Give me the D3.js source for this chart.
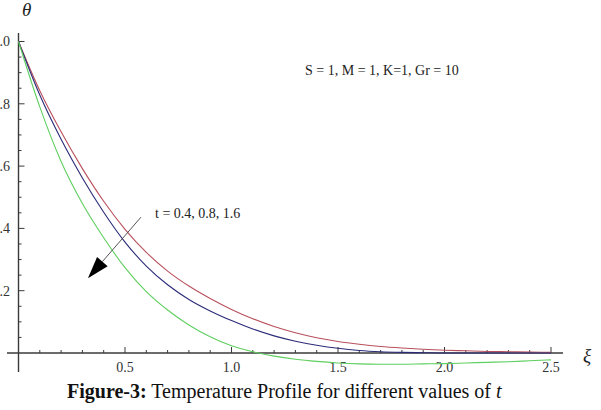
<!DOCTYPE html>
<html>
<head>
<meta charset="utf-8">
<script src="https://cdn.jsdelivr.net/npm/d3@7"></script>
<style>
  html, body { margin: 0; padding: 0; background: #fff; }
  svg { display: block; }
  text { font-family: "Liberation Serif", "Times New Roman", serif; }
</style>
</head>
<body>
<script>
'use strict';
// temperature profile, three values of t
const xi       = [0, 0.1, 0.2, 0.3, 0.4, 0.5, 0.6, 0.7, 0.8, 0.9, 1.0, 1.1, 1.2, 1.3, 1.4, 1.5, 1.6, 1.7, 1.8, 1.9, 2.0, 2.1, 2.2, 2.3, 2.4, 2.5];
const thetaT04 = [1.0, 0.842, 0.71, 0.592, 0.487, 0.397, 0.323, 0.263, 0.215, 0.175, 0.14, 0.11, 0.085, 0.065, 0.049, 0.037, 0.028, 0.021, 0.016, 0.012, 0.009, 0.007, 0.005, 0.004, 0.003, 0.002];
const thetaT08 = [1.0, 0.828, 0.686, 0.562, 0.452, 0.356, 0.279, 0.219, 0.172, 0.135, 0.104, 0.077, 0.055, 0.038, 0.025, 0.015, 0.008, 0.004, 0.002, 0.001, 0.0, 0.0, 0.0, 0.0, 0.0, 0.0];
const thetaT16 = [1.0, 0.79, 0.615, 0.48, 0.37, 0.274, 0.197, 0.138, 0.09, 0.052, 0.023, 0.004, -0.01, -0.02, -0.027, -0.032, -0.035, -0.036, -0.036, -0.035, -0.034, -0.032, -0.03, -0.028, -0.025, -0.022];
const xTicks = [0.5, 1.0, 1.5, 2.0, 2.5];
const yTicks = [0.2, 0.4, 0.6, 0.8, 1.0];

(function() {
  const W = 601, H = 410;
  const svg = d3.select('body').append('svg')
    .attr('width', W)
    .attr('height', H);

  // scales: xi=0 at 18.5px, theta=0 at 353px
  const x = d3.scaleLinear().domain([0, 2.5]).range([18.5, 551]);
  const y = d3.scaleLinear().domain([0, 1]).range([353, 41.5]);

  const axisColor = '#3a3a3a';

  // x axis line (runs a bit past both ends)
  svg.append('line')
    .attr('x1', 7).attr('x2', 563)
    .attr('y1', y(0)).attr('y2', y(0))
    .attr('stroke', axisColor).attr('stroke-width', 1.4);

  // y axis line (runs below the x axis)
  svg.append('line')
    .attr('x1', x(0)).attr('x2', x(0))
    .attr('y1', 33).attr('y2', 372)
    .attr('stroke', axisColor).attr('stroke-width', 1.4);

  // x ticks, pointing up (inward)
  const xMinor = d3.range(1, 26).map(d => d / 10);
  svg.append('g').selectAll('line')
    .data(xMinor)
    .enter().append('line')
      .attr('x1', d => x(d)).attr('x2', d => x(d))
      .attr('y1', y(0))
      .attr('y2', d => xTicks.some(t => Math.abs(t - d) < 1e-9) ? y(0) - 6 : y(0) - 3)
      .attr('stroke', axisColor).attr('stroke-width', 1);

  svg.append('g').selectAll('text')
    .data(xTicks)
    .enter().append('text')
      .attr('x', d => x(d))
      .attr('y', 372)
      .attr('text-anchor', 'middle')
      .style('font-size', '14px')
      .attr('fill', '#333')
      .text(d => d.toFixed(1));

  // y ticks, pointing right (inward)
  const yMinor = d3.range(1, 21).map(d => d / 20);
  svg.append('g').selectAll('line')
    .data(yMinor)
    .enter().append('line')
      .attr('y1', d => y(d)).attr('y2', d => y(d))
      .attr('x1', x(0))
      .attr('x2', d => yTicks.some(t => Math.abs(t - d) < 1e-9) ? x(0) + 6 : x(0) + 3)
      .attr('stroke', axisColor).attr('stroke-width', 1);

  svg.append('g').selectAll('text')
    .data(yTicks)
    .enter().append('text')
      .attr('x', 10)
      .attr('y', d => y(d))
      .attr('dy', '0.35em')
      .attr('text-anchor', 'end')
      .style('font-size', '14px')
      .attr('fill', '#333')
      .text(d => d.toFixed(1));

  // curves
  const series = [
    { values: thetaT04, color: '#b8505c' },
    { values: thetaT08, color: '#2b2b7a' },
    { values: thetaT16, color: '#5fcf5f' }
  ];
  const line = d3.line()
    .x(d => x(d[0]))
    .y(d => y(d[1]))
    .curve(d3.curveMonotoneX);

  series.forEach(s => {
    svg.append('path')
      .datum(xi.map((v, i) => [v, s.values[i]]))
      .attr('d', line)
      .attr('fill', 'none')
      .attr('stroke', s.color)
      .attr('stroke-width', 1.1);
  });

  // axis labels
  svg.append('text')
    .attr('x', 22).attr('y', 16)
    .style('font-size', '19px')
    .style('font-style', 'italic')
    .attr('fill', '#222')
    .text('\u03B8');

  svg.append('text')
    .attr('x', 583).attr('y', 362)
    .style('font-size', '19px')
    .style('font-style', 'italic')
    .attr('fill', '#222')
    .text('\u03BE');

  // parameter note
  svg.append('text')
    .attr('x', 305).attr('y', 75)
    .style('font-size', '14px')
    .attr('fill', '#222')
    .text('S = 1, M = 1, K=1, Gr = 10');

  svg.append('text')
    .attr('x', 155).attr('y', 218)
    .style('font-size', '14px')
    .attr('fill', '#222')
    .text('t = 0.4, 0.8, 1.6');

  // arrow pointing toward larger t
  const a0 = [x(0.575), y(0.436)];
  const a1 = [x(0.326), y(0.24)];
  const ang = Math.atan2(a1[1] - a0[1], a1[0] - a0[0]);
  const headLen = 22, headHalf = 7;
  const bx = a1[0] - headLen * Math.cos(ang), by = a1[1] - headLen * Math.sin(ang);
  svg.append('line')
    .attr('x1', a0[0]).attr('y1', a0[1])
    .attr('x2', bx).attr('y2', by)
    .attr('stroke', '#555').attr('stroke-width', 1);
  svg.append('path')
    .attr('d', 'M' + a1[0] + ',' + a1[1] +
      'L' + (bx + headHalf * Math.sin(ang)) + ',' + (by - headHalf * Math.cos(ang)) +
      'L' + (bx - headHalf * Math.sin(ang)) + ',' + (by + headHalf * Math.cos(ang)) + 'Z')
    .attr('fill', '#000');

  // caption
  const cap = svg.append('text')
    .attr('x', 67).attr('y', 398)
    .style('font-size', '20px')
    .attr('fill', '#111');
  cap.append('tspan').style('font-weight', 'bold').text('Figure-3:');
  cap.append('tspan').text(' Temperature Profile for different values of ');
  cap.append('tspan').style('font-style', 'italic').text(' t');
})();
</script>
</body>
</html>
